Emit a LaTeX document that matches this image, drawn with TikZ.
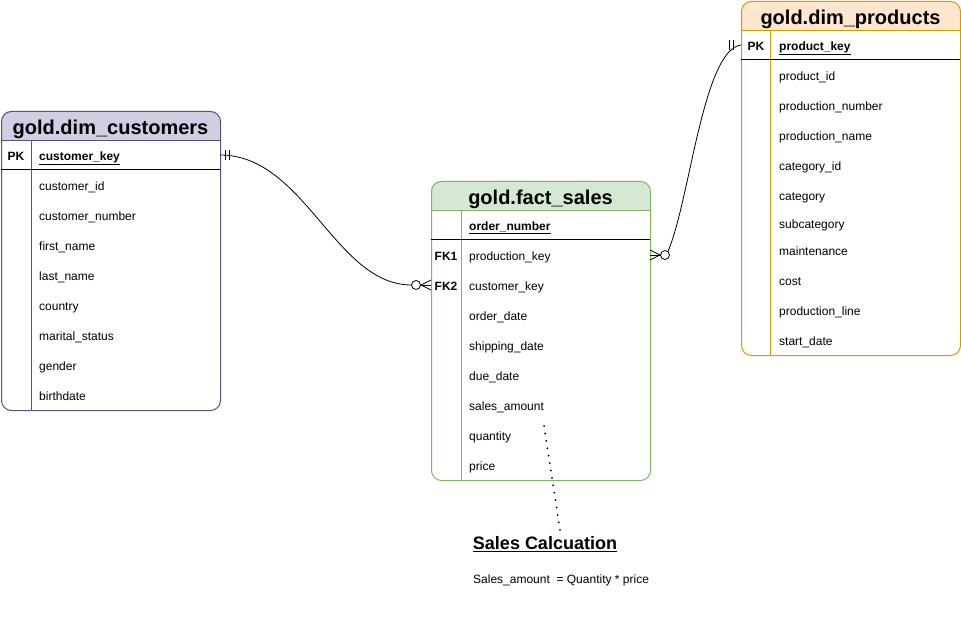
\documentclass[tikz,border=0pt]{standalone}
\usepackage{fontspec}
\setmainfont{Liberation Sans}
\usetikzlibrary{calc}
\definecolor{custfill}{HTML}{D0CEE2}
\definecolor{custdraw}{HTML}{56517E}
\definecolor{factfill}{HTML}{D5E8D4}
\definecolor{factdraw}{HTML}{82B366}
\definecolor{prodfill}{HTML}{FFE6CC}
\definecolor{proddraw}{HTML}{D79B00}
\begin{document}
\begin{tikzpicture}[x=1pt,y=-1pt,
  field/.style={anchor=base west, inner sep=0pt, font=\fontsize{12}{14}\selectfont},
  keyfield/.style={anchor=base west, inner sep=0pt, font=\fontsize{12}{14}\selectfont\bfseries},
  keylbl/.style={anchor=base, inner sep=0pt, font=\fontsize{12}{14}\selectfont\bfseries},
  tabletitle/.style={anchor=base, inner sep=0pt, font=\fontsize{20}{24}\selectfont\bfseries},
  tablebox/.style={rounded corners=10pt, minimum width=219pt, inner sep=0pt, anchor=north west, line width=1pt},
  rel/.style={draw=black, line width=0.8pt},
]
\useasboundingbox (0,0) rectangle (961,644);
\fill[white] (0,0) rectangle (961,644);

% ---------------- customers ----------------
\begin{scope}
\clip (0,111) rectangle (221,141);
\fill[custfill, rounded corners=10pt] (1,111) rectangle (220,410);
\end{scope}
\node[tablebox, draw=custdraw, minimum height=299pt] (cust) at (1,111) {};
\draw[custdraw, line width=1pt] (1,141) -- (220,141);
\draw[custdraw, line width=1pt] (31,141) -- (31,410);
\draw[black, line width=1pt] (1,170) -- (220,170);
\node[tabletitle] (custtitle) at (110.5,134.5) {gold.dim\_customers};
\node[keylbl] (custpk) at (16,160.5) {PK};
\node[keyfield] (custkey) at (39,160.5) {\underline{customer\_key}};
\foreach \t/\y/\n in {customer\_id/185/a, customer\_number/215/b, first\_name/245/c, last\_name/275/d, country/305/e, marital\_status/335/f, gender/365/g, birthdate/395/h}
  \node[field, name=cust-\n] at (39,\y+5.5) {\t};

% ---------------- fact sales ----------------
\begin{scope}
\clip (430,181) rectangle (651,211);
\fill[factfill, rounded corners=10pt] (431,181) rectangle (650,480);
\end{scope}
\node[tablebox, draw=factdraw, minimum height=299pt] (fact) at (431,181) {};
\draw[factdraw, line width=1pt] (431,211) -- (650,211);
\draw[factdraw, line width=1pt] (461,211) -- (461,480);
\draw[black, line width=1pt] (431,240) -- (650,240);
\node[tabletitle] (facttitle) at (540.5,204.5) {gold.fact\_sales};
\node[keyfield] (ordernum) at (469,230.5) {\underline{order\_number}};
\node[keylbl] (fk1) at (446,260.5) {FK1};
\node[keylbl] (fk2) at (446,290.5) {FK2};
\node[field] (prodkeyf) at (469,260.5) {production\_key};
\node[field] (custkeyf) at (469,290.5) {customer\_key};
\foreach \t/\y/\n in {order\_date/315/a, shipping\_date/345/b, due\_date/375/c, sales\_amount/405/d, quantity/435/e, price/465/f}
  \node[field, name=fact-\n] at (469,\y+5.5) {\t};

% ---------------- products ----------------
\begin{scope}
\clip (740,0) rectangle (961,31);
\fill[prodfill, rounded corners=10pt] (741,1) rectangle (960,355);
\end{scope}
\node[tablebox, draw=proddraw, minimum height=354pt] (prod) at (741,1) {};
\draw[proddraw, line width=1pt] (741,31) -- (960,31);
\draw[proddraw, line width=1pt] (770,31) -- (770,355);
\draw[black, line width=1pt] (741,60) -- (960,60);
\node[tabletitle] (prodtitle) at (850.5,24.5) {gold.dim\_products};
\node[keylbl] (prodpk) at (756,50.5) {PK};
\node[keyfield] (prodkey) at (779,50.5) {\underline{product\_key}};
\foreach \t/\y/\n in {product\_id/75/a, production\_number/105/b, production\_name/135/c, category\_id/165/d, category/195/e, subcategory/223/f, maintenance/250/g, cost/280/h, production\_line/310/i, start\_date/340/j}
  \node[field, name=prod-\n] at (779,\y+5.5) {\t};

% ---------------- relation customers -> fact ----------------
\coordinate (a1) at (220,155);
\coordinate (b1) at (431,285);
\draw[rel] (a1) .. controls (305,155) and (335,285) .. ($(b1)+(-19.5,0)$);
\draw[rel] ($(a1)+(5,-5)$) -- ($(a1)+(5,5)$);
\draw[rel] ($(a1)+(9,-5)$) -- ($(a1)+(9,5)$);
\draw[rel] ($(b1)+(-10,0)$) -- ($(b1)+(0,-5)$);
\draw[rel] ($(b1)+(-10,0)$) -- ($(b1)+(0,5)$);
\draw[rel] ($(b1)+(-10.5,0)$) -- (b1);
\draw[rel, fill=white] ($(b1)+(-15,0)$) circle[radius=4.5pt];

% ---------------- relation fact -> products ----------------
\coordinate (a2) at (650,255);
\coordinate (b2) at (741,45);
\draw[rel] ($(a2)+(17.9,-3.4)$) .. controls (690,200) and (703,50) .. (b2);
\draw[rel] ($(b2)+(-12,-5)$) -- ($(b2)+(-12,5)$);
\draw[rel] ($(b2)+(-8,-5)$) -- ($(b2)+(-8,5)$);
\draw[rel] ($(a2)+(10,0)$) -- ($(a2)+(0,-5)$);
\draw[rel] ($(a2)+(10,0)$) -- ($(a2)+(0,5)$);
\draw[rel] ($(a2)+(10.5,0)$) -- (a2);
\draw[rel, fill=white] ($(a2)+(15,0)$) circle[radius=4.5pt];

% ---------------- note ----------------
\node[anchor=base, inner sep=0pt, font=\fontsize{18}{22}\selectfont\bfseries] (calc) at (545,549.5) {\underline{Sales Calcuation}};
\node[anchor=base west, inner sep=0pt, font=\fontsize{12}{14}\selectfont] (formula) at (473,583.5) {Sales\_amount~ = Quantity * price};
\coordinate (d1) at (544,426);
\coordinate (d2) at (560,530);
\draw[black, line width=2pt, dash pattern=on 0pt off 7.5pt, line cap=round] (d1) -- (d2);
\end{tikzpicture}
\end{document}
